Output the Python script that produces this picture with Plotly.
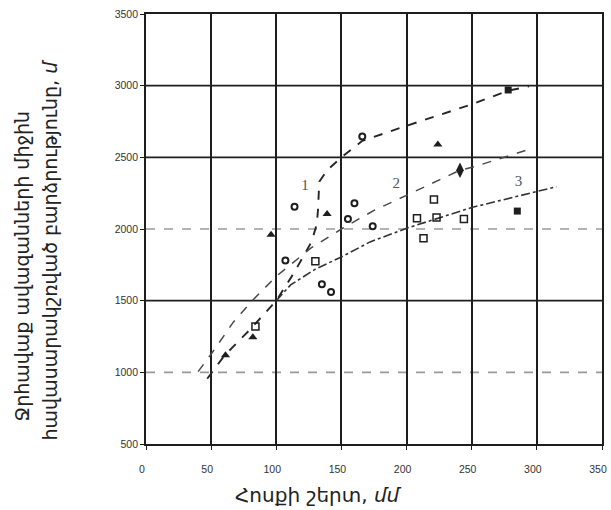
import plotly.graph_objects as go

# Observed points, grouped by marker type (x: runoff depth, mm; y: mean weighted basin height, m)
circle_x = [166, 160, 114, 155, 174, 107, 135, 142]
circle_y = [2645, 2180, 2155, 2070, 2020, 1780, 1615, 1560]

triangle_x = [224, 139, 96, 82, 61]
triangle_y = [2590, 2105, 1960, 1245, 1120]

square_open_x = [221, 208, 223, 244, 213, 130, 84]
square_open_y = [2205, 2075, 2080, 2070, 1935, 1775, 1320]

square_fill_x = [278, 285]
square_fill_y = [2970, 2125]

diamond_x = [241]
diamond_y = [2410]

# Fitted relationships 1, 2, 3
curve1_x = [47, 60, 80, 100, 114, 127, 131, 132, 133, 139, 150, 166, 200, 250, 278, 294]
curve1_y = [955, 1115, 1300, 1500, 1700, 1910, 2030, 2130, 2330, 2410, 2500, 2615, 2720, 2870, 2965, 2995]

curve2_x = [40, 51, 67, 81, 100, 127, 150, 175, 200, 241, 251, 295]
curve2_y = [1005, 1140, 1350, 1495, 1670, 1870, 2000, 2130, 2235, 2410, 2432, 2558]

curve3_x = [100, 111, 130, 150, 172, 200, 250, 315]
curve3_y = [1500, 1610, 1720, 1805, 1910, 2005, 2150, 2295]

curve_labels = ["1", "2", "3"]
curve_label_x = [122, 192, 286]
curve_label_y = [2300, 2310, 2325]

x_ticks = [0, 50, 100, 150, 200, 250, 300, 350]
y_ticks = [500, 1000, 1500, 2000, 2500, 3000, 3500]
solid_levels = [1500, 2500, 3000]
dashed_levels = [1000, 2000]

INK = "#1e1e1e"

fig = go.Figure()

fig.add_trace(go.Scatter(x=curve1_x, y=curve1_y, mode="lines", line=dict(color="#262626", width=1.9, dash="dash"), hoverinfo="skip"))
fig.add_trace(go.Scatter(x=curve2_x, y=curve2_y, mode="lines", line=dict(color="#4a4a4a", width=1.5, dash="dash"), hoverinfo="skip"))
fig.add_trace(go.Scatter(x=curve3_x, y=curve3_y, mode="lines", line=dict(color="#333333", width=1.6, dash="dashdot"), hoverinfo="skip"))

fig.add_trace(go.Scatter(x=circle_x, y=circle_y, mode="markers",
                         marker=dict(symbol="circle-open", size=6, color=INK, line=dict(width=2, color=INK))))
fig.add_trace(go.Scatter(x=triangle_x, y=triangle_y, mode="markers",
                         marker=dict(symbol="triangle-up", size=8, color=INK)))
fig.add_trace(go.Scatter(x=square_open_x, y=square_open_y, mode="markers",
                         marker=dict(symbol="square-open", size=7, color=INK, line=dict(width=1.5, color=INK))))
fig.add_trace(go.Scatter(x=square_fill_x, y=square_fill_y, mode="markers",
                         marker=dict(symbol="square", size=7, color=INK)))
fig.add_trace(go.Scatter(x=diamond_x, y=diamond_y, mode="markers",
                         marker=dict(symbol="diamond-tall", size=11, color=INK)))

fig.add_trace(go.Scatter(x=curve_label_x, y=curve_label_y, mode="text", text=curve_labels,
                         textfont=dict(family="Liberation Serif", size=15, color="#555555"),
                         hoverinfo="skip"))

# Horizontal rules: solid black and lighter dashed ones
for lv in solid_levels:
    fig.add_shape(type="line", xref="x domain", x0=0, x1=1, yref="y", y0=lv, y1=lv,
                  line=dict(color=INK, width=1.7), layer="below")
for lv in dashed_levels:
    fig.add_shape(type="line", xref="x domain", x0=0, x1=1, yref="y", y0=lv, y1=lv,
                  line=dict(color="#9a9a9a", width=1.6, dash="dash"), layer="below")

tick_font = dict(family="Liberation Sans", size=10.5, color="#333333")

fig.update_xaxes(range=[0, 350], tickvals=x_ticks, ticks="outside", ticklen=4, tickcolor=INK,
                 showgrid=True, gridcolor=INK, gridwidth=1.6,
                 showline=True, linecolor=INK, linewidth=1.8, mirror=True,
                 zeroline=False, tickfont=tick_font, ticklabelstandoff=10, ticklabelshift=-4,
                 ticklabeloverflow="allow", automargin=False)
fig.update_yaxes(range=[500, 3500], tickvals=y_ticks, ticks="outside", ticklen=4, tickcolor=INK,
                 showgrid=False,
                 showline=True, linecolor=INK, linewidth=1.8, mirror=True,
                 zeroline=False, tickfont=tick_font, ticklabeloverflow="allow", automargin=False)

title_font = dict(family="DejaVu Sans", size=19, color="#222222")

fig.add_annotation(text="Հոսքի շերտ, <i>մմ</i>", xref="paper", yref="paper",
                   x=0.378, y=-0.119, showarrow=False, font=dict(family="DejaVu Sans", size=20, color="#222222"),
                   xanchor="center", yanchor="middle")
fig.add_annotation(text="Ջրհավաք ավազանների միջին", xref="paper", yref="paper",
                   x=-0.271, y=0.414, showarrow=False, font=title_font, textangle=-90,
                   xanchor="center", yanchor="middle")
fig.add_annotation(text="հավասարակշռված բարձրությունը, <i>մ</i>", xref="paper", yref="paper",
                   x=-0.21, y=0.453, showarrow=False, font=title_font, textangle=-90,
                   xanchor="center", yanchor="middle")

fig.update_layout(width=611, height=510, margin=dict(l=146, r=9, t=14, b=66, autoexpand=False),
                  paper_bgcolor="white", plot_bgcolor="white", showlegend=False)

fig.write_html("out.html")
